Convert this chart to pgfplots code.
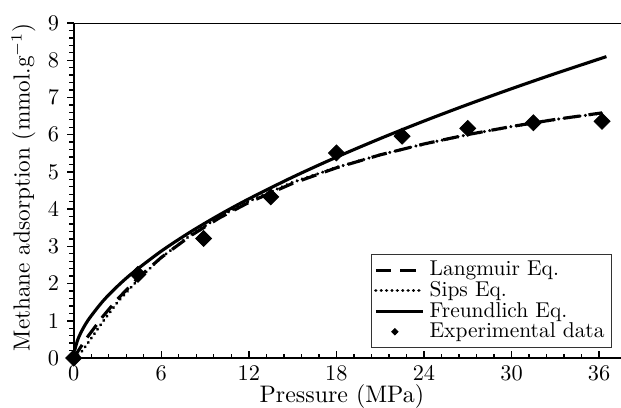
\documentclass[border=0pt]{standalone}
\usepackage{pgfplots}
\pgfplotsset{compat=1.18}
\begin{document}
\begin{tikzpicture}
\begin{axis}[
  name=ax,
  scale only axis,
  width=245pt, height=150pt,
  xmin=0, xmax=37.5, ymin=0, ymax=9,
  axis x line*=bottom, axis y line*=left,
  axis line style={line width=1pt},
  xtick={0,6,...,36}, ytick={0,1,...,9},
  minor x tick num=4, minor y tick num=4,
  xtick align=inside, ytick align=outside,
  major tick length=3pt, minor tick length=2pt,
  every tick/.style={black, line width=0.6pt},
  tick label style={font=\fontsize{9.6}{11}\selectfont},
  xlabel={Pressure (MPa)},
  ylabel={Methane adsorption (mmol.g$^{-1}$)},
  xlabel style={at={([yshift=-19.8pt]axis description cs:0.49,0)}, anchor=base, font=\fontsize{10.7}{12}\selectfont},
  ylabel style={at={([xshift=-22.5pt]axis description cs:0,0.51)}, anchor=center, font=\fontsize{10.4}{12}\selectfont},
  legend cell align=left,
  legend style={at={(0.983,0.03)}, anchor=south east, draw=black!80, line width=0.4pt,
    inner sep=1pt, row sep=-3pt, font=\fontsize{9.6}{10.5}\selectfont},
  legend image code/.code={\draw[#1] (0cm,0cm) -- (0.75cm,0cm);},
]
\addplot[black, line width=1.4pt, dash pattern=on 7pt off 4pt] coordinates {
(0,0) (0.5,0.308) (1,0.596) (2,1.119) (3,1.583) (4.4,2.150) (6,2.702) (8,3.282) (10,3.768) (12,4.180) (15,4.692) (18,5.111) (21,5.458) (24,5.751) (27,6.003) (30,6.220) (33,6.410) (36.2,6.586)};
\addlegendentry{Langmuir Eq.}
\addplot[black, line width=1.5pt, line cap=round, dash pattern=on 0.01pt off 2.4pt] coordinates {
(0,0) (0.5,0.15) (1,0.42) (1.5,0.70) (2,0.98) (3,1.50) (4.4,2.10) (6,2.70) (8,3.30) (10,3.80) (12,4.21) (15,4.72) (18,5.12) (21,5.46) (24,5.75) (27,6.00) (30,6.22) (33,6.41) (36.2,6.58)};
\addlegendentry{Sips Eq.}
\addplot[black, line width=1.4pt, smooth] coordinates {
(0.05,0.184) (0.25,0.463) (0.5,0.690) (1,1.027) (2,1.529) (3,1.930) (4,2.276) (6,2.872) (8,3.388) (10,3.851) (12,4.276) (15,4.860) (18,5.396) (21,5.896) (24,6.366) (27,6.811) (30,7.235) (33,7.642) (36.5,8.097)};
\addlegendentry{Freundlich Eq.}
\addplot[only marks, black, mark=square*, mark size=2.5pt, mark options={rotate=45},
  legend image code/.code={\draw[mark=square*, mark size=1pt, mark options={rotate=45}] plot coordinates {(0.3cm,0cm)};}] coordinates {
(0,0) (4.4,2.25) (8.9,3.21) (13.5,4.33) (18.0,5.51) (22.5,5.96) (27.0,6.17) (31.5,6.32) (36.2,6.36)};
\addlegendentry{Experimental data}
\draw[line width=1pt] (rel axis cs:0,1) -- (rel axis cs:1,1);
\end{axis}
\pgfresetboundingbox
\path[use as bounding box] ([xshift=-33pt,yshift=-22pt]ax.south west) rectangle ([yshift=10.3pt]ax.north east);
\end{tikzpicture}
\end{document}
